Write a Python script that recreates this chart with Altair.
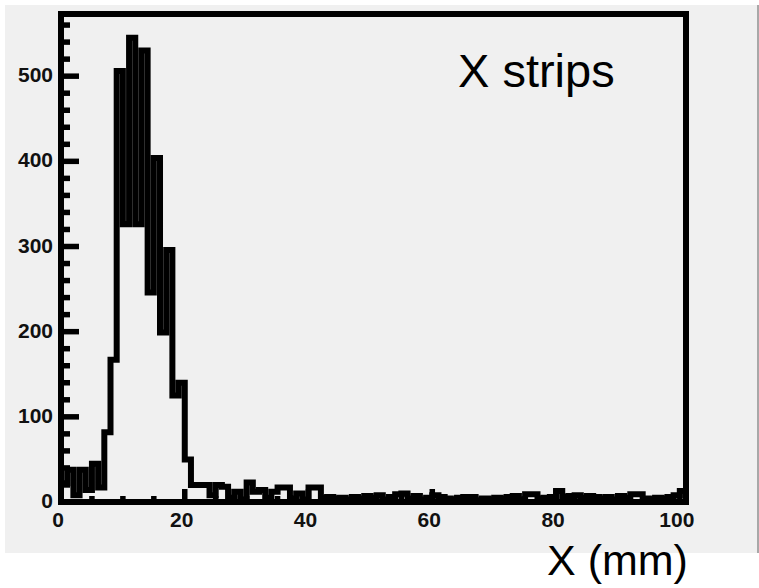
import altair as alt
import pandas as pd

# Histogram contents: 1 mm bins from 0 to 101 mm (bin i spans [i, i+1])
bin_counts = [
    22, 38, 8, 38, 14, 45, 17, 82, 167, 506, 326, 545, 326, 530, 246, 404, 199, 296, 125, 140, 50, 20,
    20, 20, 8, 20, 18, 5, 12, 3, 23, 12, 14, 5, 12, 17, 17, 4, 10, 3, 17, 17, 5, 6,
    4, 5, 3, 6, 4, 7, 5, 8, 3, 6, 9, 10, 4, 7, 3, 5, 8,
    6, 4, 3, 5, 6, 6, 2, 4, 3, 5, 4, 6, 7, 3, 9, 9, 4, 5, 6, 13,
    6, 7, 8, 5, 7, 6, 4, 6, 3, 7, 5, 9, 9, 4, 3, 5, 4, 6, 8, 13,
]
bin_width = 1
x_min, x_max = 0, 101
y_max = 573

x_major_ticks = [0, 20, 40, 60, 80, 100]
x_minor_ticks = [v for v in range(0, 101, 5) if v % 20 != 0]
y_major_ticks = [0, 100, 200, 300, 400, 500]
y_minor_ticks = [v for v in range(20, 561, 20) if v % 100 != 0]

title_text = "X strips"
x_title_text = "X (mm)"

W, H = 625, 488

edges = [i * bin_width for i in range(len(bin_counts))] + [x_max]
vals = bin_counts + [bin_counts[-1]]
hist_df = pd.DataFrame({"x": edges, "y": vals})

xs = alt.Scale(domain=[x_min, x_max], nice=False, zero=False)
ys = alt.Scale(domain=[0, y_max], nice=False)

label_font = "Liberation Sans"
one = pd.DataFrame({"d": [0]})

# white margins around the grey canvas (page background is grey)
white_left = alt.Chart(one).mark_rect(color="white").encode(
    x=alt.value(-61), x2=alt.value(-56), y=alt.value(-14), y2=alt.value(574))
white_top = alt.Chart(one).mark_rect(color="white").encode(
    x=alt.value(-61), x2=alt.value(698), y=alt.value(-14), y2=alt.value(-9))
white_bottom = alt.Chart(one).mark_rect(color="white").encode(
    x=alt.value(-61), x2=alt.value(698), y=alt.value(539), y2=alt.value(574))
panel_edge = alt.Chart(one).mark_rule(color="#a8a8a8", strokeWidth=2).encode(
    x=alt.value(697), y=alt.value(-9), y2=alt.value(539))

hist = alt.Chart(hist_df).mark_line(
    interpolate="step-after", color="black", strokeWidth=6, strokeJoin="miter", strokeCap="butt"
).encode(
    x=alt.X("x:Q", scale=xs, axis=None),
    y=alt.Y("y:Q", scale=ys, axis=None),
)

xmaj = alt.Chart(pd.DataFrame({"x": x_major_ticks})).mark_rule(color="black", strokeWidth=5.5).encode(
    x=alt.X("x:Q", scale=xs, axis=None), y=alt.value(H), y2=alt.value(H - 13))
xmin = alt.Chart(pd.DataFrame({"x": x_minor_ticks})).mark_rule(color="black", strokeWidth=5.5).encode(
    x=alt.X("x:Q", scale=xs, axis=None), y=alt.value(H), y2=alt.value(H - 6))
ymaj = alt.Chart(pd.DataFrame({"y": y_major_ticks})).mark_rule(color="black", strokeWidth=5.5).encode(
    y=alt.Y("y:Q", scale=ys, axis=None), x=alt.value(0), x2=alt.value(18))
ymin = alt.Chart(pd.DataFrame({"y": y_minor_ticks})).mark_rule(color="black", strokeWidth=5.5).encode(
    y=alt.Y("y:Q", scale=ys, axis=None), x=alt.value(0), x2=alt.value(9))

xlab = alt.Chart(pd.DataFrame({"x": x_major_ticks, "t": [str(v) for v in x_major_ticks]})).mark_text(
    font=label_font, fontWeight="bold", fontSize=21, color="#111111", align="center",
    baseline="alphabetic", dx=-3
).encode(x=alt.X("x:Q", scale=xs, axis=None), y=alt.value(H + 25), text="t:N")
ylab = alt.Chart(pd.DataFrame({"y": y_major_ticks, "t": [str(v) for v in y_major_ticks]})).mark_text(
    font=label_font, fontWeight="bold", fontSize=21, color="#111111", align="right",
    baseline="middle"
).encode(y=alt.Y("y:Q", scale=ys, axis=None), x=alt.value(-8), text="t:N")

frame = alt.Chart(one).mark_rect(
    fill="transparent", stroke="black", strokeWidth=6
).encode(x=alt.value(0), x2=alt.value(W), y=alt.value(0), y2=alt.value(H))

title = alt.Chart(pd.DataFrame({"t": [title_text]})).mark_text(
    font=label_font, fontSize=47, color="black", align="left", baseline="alphabetic"
).encode(text="t:N", x=alt.value(397), y=alt.value(73))

xtitle = alt.Chart(pd.DataFrame({"t": [x_title_text]})).mark_text(
    font=label_font, fontSize=43, color="black", align="left", baseline="alphabetic"
).encode(text="t:N", x=alt.value(486), y=alt.value(561))

chart = alt.layer(
    white_left, white_top, white_bottom, panel_edge,
    hist, xmaj, xmin, ymaj, ymin, frame, xlab, ylab, title, xtitle
).properties(
    width=W, height=H,
    padding={"left": 61, "top": 14, "right": 73, "bottom": 86},
    autosize=alt.AutoSizeParams(type="none"),
    background="#f0f0f0",
).configure_view(stroke="transparent")

chart.save("out.html", embed_options={"renderer": "svg", "actions": False})
